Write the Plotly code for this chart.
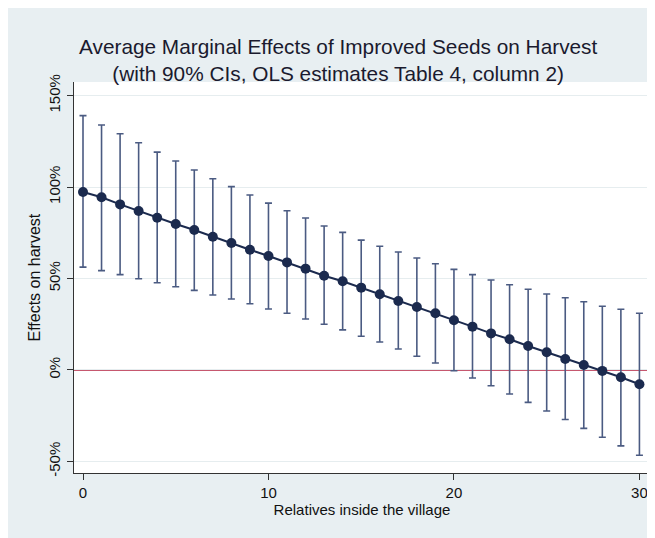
import plotly.graph_objects as go

relatives = list(range(0, 31))
estimate = [97.3, 94.4, 90.5, 86.9, 83.2, 79.8, 76.5, 72.8, 69.4, 65.7, 62.3,
            58.8, 55.4, 51.5, 48.5, 45.0, 41.4, 37.7, 34.4, 31.0, 27.2,
            23.7, 20.0, 16.8, 13.1, 9.7, 6.0, 2.7, -0.5, -4.0, -7.8]
ci_upper = [139.0, 133.9, 129.1, 124.2, 119.1, 114.2, 109.3, 104.5, 100.2, 95.6, 91.2,
            87.0, 83.1, 78.7, 75.2, 71.0, 67.6, 64.5, 61.2, 58.1, 55.0,
            52.1, 49.2, 46.6, 44.1, 41.5, 39.5, 37.3, 34.8, 33.2, 31.0]
ci_lower = [56.2, 54.3, 52.1, 49.9, 47.7, 45.5, 43.5, 41.0, 38.8, 36.2, 33.3,
            31.0, 27.9, 25.0, 21.9, 18.4, 15.3, 11.5, 7.5, 3.8, -0.4,
            -4.4, -8.6, -13.1, -17.7, -22.4, -27.1, -31.9, -36.8, -41.5, -46.6]
y_ticks = [-50, 0, 50, 100, 150]
y_tick_labels = ["-50%", "0%", "50%", "100%", "150%"]
x_ticks = [0, 10, 20, 30]

# page body has an 8px margin, so the figure is offset by (8, 8)
W, H = 647, 530
L, R, T, B = 66, 5, 74, 65
pw, ph = W - L - R, H - T - B

bg = "#E8EFF2"
navy = "#1B2A4E"
bar_col = "#4B5B82"

err_plus = [u - e for u, e in zip(ci_upper, estimate)]
err_minus = [e - l for e, l in zip(estimate, ci_lower)]

fig = go.Figure()
fig.add_trace(go.Scatter(
    x=relatives, y=estimate, mode="lines+markers",
    line=dict(color=navy, width=2),
    marker=dict(color=navy, size=10),
    error_y=dict(type="data", symmetric=False, array=err_plus, arrayminus=err_minus,
                 color=bar_col, thickness=1.6, width=3.5),
    showlegend=False,
))


def px_x(p):
    return (p - L) / pw


def px_y(p):
    return 1 - (p - T) / ph


shapes = [
    dict(type="line", xref="paper", yref="y", x0=0, x1=1, y0=0, y1=0,
         line=dict(color="#B3203F", width=1.5), layer="below"),
]

fig.update_layout(
    width=W, height=H,
    margin=dict(l=L, r=R, t=T, b=B, autoexpand=False),
    paper_bgcolor=bg, plot_bgcolor="white",
    font=dict(family="Liberation Sans, Arial, sans-serif", color="#111111"),
    shapes=shapes,
    annotations=[
        dict(text="Average Marginal Effects of Improved Seeds on Harvest<br>(with 90% CIs, OLS estimates Table 4, column 2)",
             xref="paper", yref="paper", x=px_x(330), y=px_y(52), xanchor="center", yanchor="middle",
             showarrow=False, font=dict(size=20.8, color="#1a1a2e"), align="center"),
        dict(text="Effects on harvest", textangle=-90,
             xref="paper", yref="paper", x=px_x(26), y=0.5, xanchor="center", yanchor="middle",
             showarrow=False, font=dict(size=16, color="#111111")),
    ],
    xaxis=dict(
        range=[-0.485, 30.57], tickvals=x_ticks, ticks="outside", ticklen=6, tickwidth=1.2,
        tickcolor="#333", showline=True, linecolor="#333", linewidth=1.2, showgrid=False,
        zeroline=False, tickfont=dict(size=15),
        title=dict(text="Relatives inside the village", font=dict(size=15), standoff=2),
    ),
    yaxis=dict(
        range=[-56.3, 157.4], tickvals=y_ticks, ticktext=y_tick_labels, tickangle=-90,
        ticks="outside", ticklen=6, tickwidth=1.2, tickcolor="#333", ticklabelstandoff=1,
        showline=True, linecolor="#333", linewidth=1.2, showgrid=True,
        gridcolor="#E6EDEF", gridwidth=1.2, zeroline=False, tickfont=dict(size=15),
    ),
)

fig.write_html("out.html")
